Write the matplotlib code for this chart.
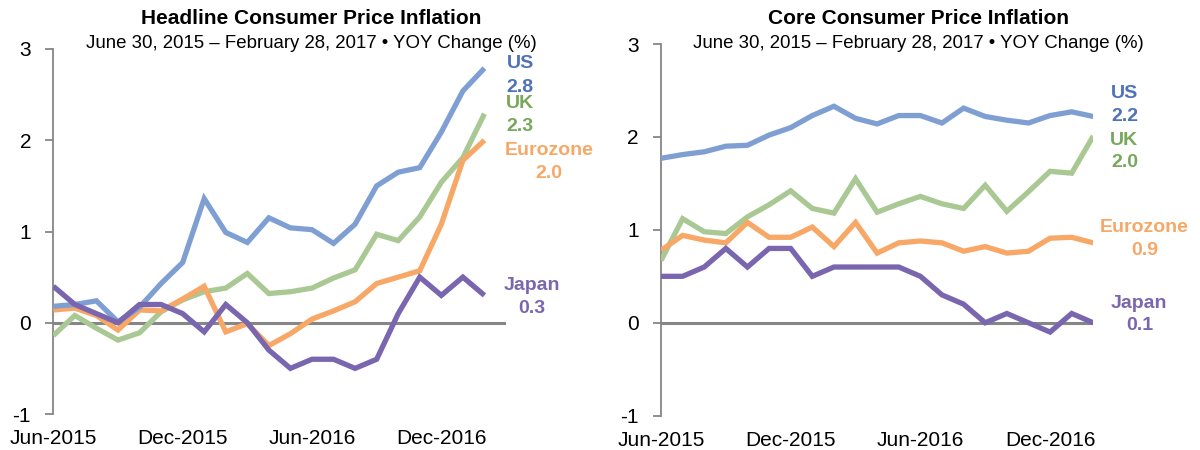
import matplotlib
matplotlib.use("Agg")
import matplotlib.pyplot as plt
import numpy as np

plt.rcParams['font.family'] = ['Liberation Sans', 'DejaVu Sans']

months = ["Jun-2015", "Jul-2015", "Aug-2015", "Sep-2015", "Oct-2015", "Nov-2015",
          "Dec-2015", "Jan-2016", "Feb-2016", "Mar-2016", "Apr-2016", "May-2016",
          "Jun-2016", "Jul-2016", "Aug-2016", "Sep-2016", "Oct-2016", "Nov-2016",
          "Dec-2016", "Jan-2017", "Feb-2017"]
tick_labels = ["Jun-2015", "Dec-2015", "Jun-2016", "Dec-2016"]

# Headline CPI (YOY %)
head_us = [0.18, 0.20, 0.24, 0.01, 0.17, 0.43, 0.66, 1.36, 0.99, 0.88, 1.15,
           1.04, 1.02, 0.87, 1.08, 1.50, 1.65, 1.70, 2.09, 2.54, 2.79]
head_uk = [-0.14, 0.08, -0.06, -0.19, -0.11, 0.12, 0.25, 0.34, 0.38, 0.54, 0.32,
           0.34, 0.38, 0.49, 0.58, 0.97, 0.90, 1.16, 1.54, 1.81, 2.29]
head_ez = [0.14, 0.16, 0.08, -0.08, 0.14, 0.13, 0.26, 0.40, -0.10, -0.01, -0.25,
           -0.12, 0.04, 0.13, 0.23, 0.43, 0.50, 0.57, 1.08, 1.78, 2.00]
head_jp = [0.4, 0.2, 0.1, 0.0, 0.2, 0.2, 0.1, -0.1, 0.2, 0.0, -0.3,
           -0.5, -0.4, -0.4, -0.5, -0.4, 0.1, 0.5, 0.3, 0.5, 0.3]

# Core CPI (YOY %)
core_us = [1.77, 1.81, 1.84, 1.90, 1.91, 2.02, 2.10, 2.23, 2.33, 2.20, 2.14,
           2.23, 2.23, 2.15, 2.31, 2.22, 2.18, 2.15, 2.23, 2.27, 2.22]
core_uk = [0.67, 1.12, 0.98, 0.96, 1.14, 1.27, 1.42, 1.23, 1.18, 1.55, 1.19,
           1.28, 1.36, 1.28, 1.23, 1.48, 1.20, 1.41, 1.63, 1.61, 2.01]
core_ez = [0.78, 0.94, 0.89, 0.86, 1.08, 0.92, 0.92, 1.03, 0.82, 1.08, 0.75,
           0.86, 0.88, 0.86, 0.77, 0.82, 0.75, 0.77, 0.91, 0.92, 0.86]
core_jp = [0.5, 0.5, 0.6, 0.8, 0.6, 0.8, 0.8, 0.5, 0.6, 0.6, 0.6,
           0.6, 0.5, 0.3, 0.2, 0.0, 0.1, 0.0, -0.1, 0.1, 0.0]

series_names = ["US", "UK", "Eurozone", "Japan"]
head_end_labels = ["2.8", "2.3", "2.0", "0.3"]
core_end_labels = ["2.2", "2.0", "0.9", "0.1"]

line_colors = {"US": "#7f9fd3", "UK": "#a9c893", "Eurozone": "#f7a866", "Japan": "#7a66af"}
text_colors = {"US": "#4f72b8", "UK": "#78a85b", "Eurozone": "#f7a866", "Japan": "#7a66af"}
AXIS_GRAY = "#868686"

fig = plt.figure(figsize=(12, 4.5), dpi=100)
axL = fig.add_axes([53.3 / 1200, 36 / 450, 452.7 / 1200, 365 / 450])
axR = fig.add_axes([661 / 1200, 34.3 / 450, 432.3 / 1200, 371.7 / 450])

x = np.arange(len(months))
tick_pos = [months.index(t) for t in tick_labels]


def setup(ax, xmax):
    ax.set_xlim(0, xmax)
    ax.set_ylim(-1, 3)
    for s in ["top", "right", "bottom"]:
        ax.spines[s].set_visible(False)
    ax.spines["left"].set_color(AXIS_GRAY)
    ax.spines["left"].set_linewidth(1.3)
    ax.set_yticks([-1, 0, 1, 2, 3])
    ax.set_yticklabels(["-1", "0", "1", "2", "3"])
    ax.tick_params(axis="y", direction="out", length=6, width=1.3, color=AXIS_GRAY,
                   labelsize=15, pad=10)
    ax.set_xticks(tick_pos)
    ax.set_xticklabels(tick_labels)
    ax.tick_params(axis="x", length=0, labelsize=15, pad=11)
    ax.axhline(0, color=AXIS_GRAY, lw=2.2, zorder=1)


setup(axL, 21)
setup(axR, 20)

head = {"US": head_us, "UK": head_uk, "Eurozone": head_ez, "Japan": head_jp}
core = {"US": core_us, "UK": core_uk, "Eurozone": core_ez, "Japan": core_jp}

for name in ["UK", "Eurozone", "US", "Japan"]:
    axL.plot(x, head[name], color=line_colors[name], lw=3.8, solid_joinstyle="miter",
             solid_capstyle="butt", zorder=3)
    axR.plot(x, core[name], color=line_colors[name], lw=3.8, solid_joinstyle="miter",
             solid_capstyle="butt", zorder=3)

# end-of-line labels (layout positions in data coordinates)
head_label_pos = {"US": (21.66, 2.84, 2.58), "UK": (21.66, 2.40, 2.15),
                  "Eurozone": (23.0, 1.89, 1.64), "Japan": (22.2, 0.41, 0.16)}
core_label_pos = {"US": (21.44, 2.47, 2.22), "UK": (21.44, 1.96, 1.72),
                  "Eurozone": (22.36, 1.03, 0.78), "Japan": (22.13, 0.21, -0.03)}

for ax, pos, vals in [(axL, head_label_pos, head_end_labels), (axR, core_label_pos, core_end_labels)]:
    for name, v in zip(series_names, vals):
        px, y1, y2 = pos[name]
        ax.text(px, y1, name, color=text_colors[name], fontsize=14, fontweight="bold",
                ha="center", va="center", clip_on=False)
        ax.text(px, y2, v, color=text_colors[name], fontsize=14, fontweight="bold",
                ha="center", va="center", clip_on=False)

subtitle = "June 30, 2015 \u2013 February 28, 2017 \u2022 YOY Change (%)"
fig.text(311 / 1200, 1 - 19 / 450, "Headline Consumer Price Inflation", fontsize=15,
         fontweight="bold", ha="center", va="center")
fig.text(311 / 1200, 1 - 43 / 450, subtitle, fontsize=13.4, ha="center", va="center")
fig.text(918 / 1200, 1 - 19 / 450, "Core Consumer Price Inflation", fontsize=15,
         fontweight="bold", ha="center", va="center")
fig.text(918 / 1200, 1 - 43 / 450, subtitle, fontsize=13.4, ha="center", va="center")

fig.savefig("out.png", dpi=100, facecolor="white")
